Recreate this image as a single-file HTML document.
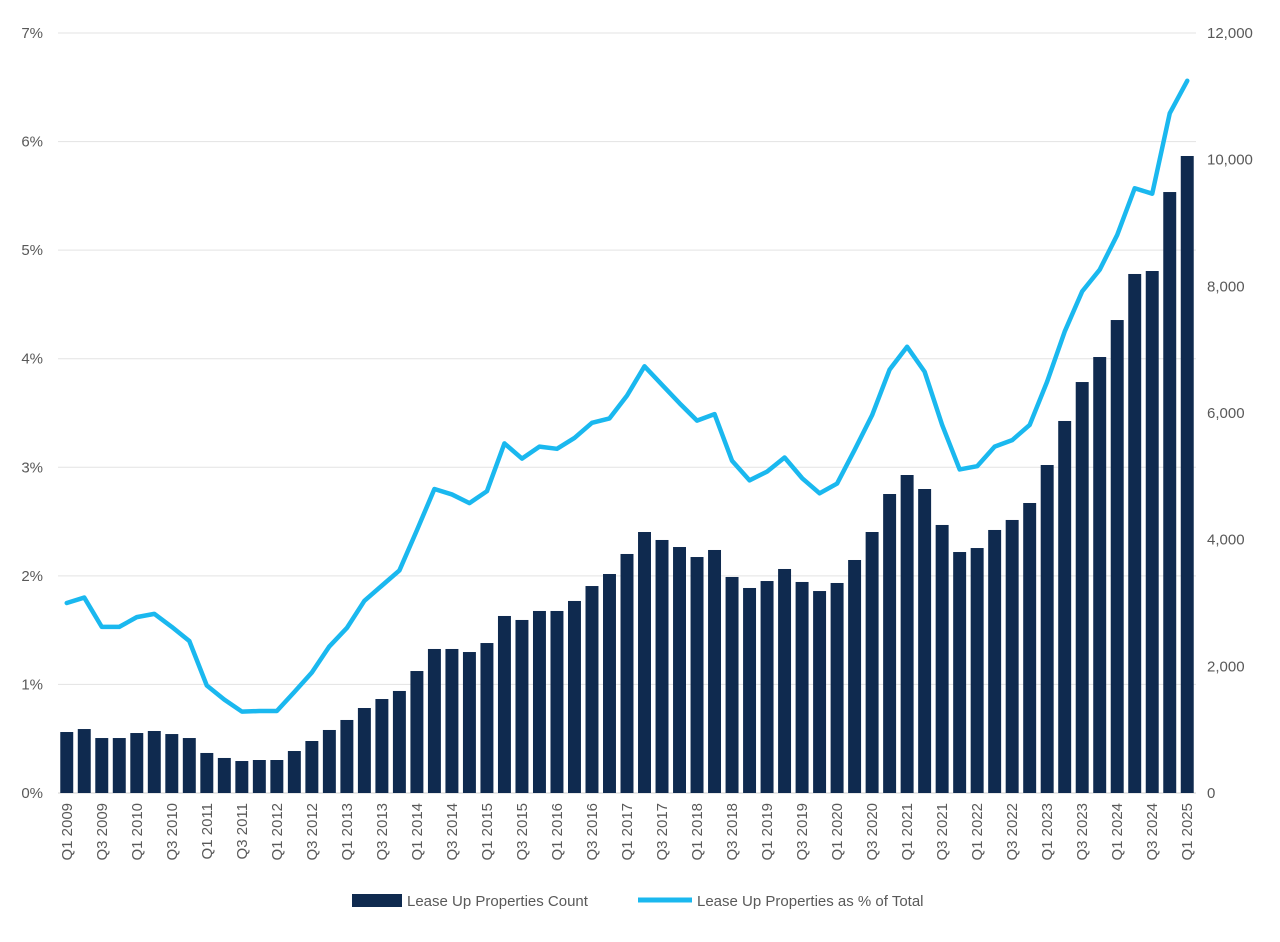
<!DOCTYPE html>
<html><head><meta charset="utf-8"><style>
body{margin:0;background:#fff;}
svg text{font-family:"Liberation Sans",sans-serif;fill:#595959;font-size:15px;}
</style></head><body>
<svg id="chart" width="1280" height="937" xmlns="http://www.w3.org/2000/svg">
<g id="grid"></g><g id="bars"></g><g id="line"></g><g id="axes"></g>
<g>
<rect x="352" y="894" width="50" height="13" fill="#0f2a4f"/>
<text x="407" y="906">Lease Up Properties Count</text>
<line x1="638" y1="900" x2="692" y2="900" stroke="#1ab8ef" stroke-width="5"/>
<text x="697" y="906">Lease Up Properties as % of Total</text>
</g>
</svg>
<script>
const years=[];for(let y=2009;y<=2025;y++)years.push(y);
const categories=[];years.forEach(y=>{for(let q=1;q<=4;q++){if(y===2025&&q>1)break;categories.push('Q'+q+' '+y);}});
const counts=[963,1010,868,868,947,979,931,868,632,553,505,521,521,663,821,995,1153,1342,1484,1611,1926,2274,2274,2226,2368,2795,2732,2874,2874,3032,3268,3458,3774,4121,3995,3884,3726,3837,3411,3237,3347,3537,3332,3189,3316,3679,4121,4721,5021,4800,4232,3805,3868,4153,4311,4579,5179,5874,6489,6884,7468,8195,8242,9489,10058];
const pcts=[1.75,1.80,1.53,1.53,1.62,1.65,1.53,1.40,0.99,0.86,0.75,0.755,0.755,0.93,1.11,1.35,1.52,1.77,1.91,2.05,2.42,2.80,2.75,2.67,2.78,3.22,3.08,3.19,3.17,3.27,3.41,3.45,3.66,3.93,3.76,3.59,3.43,3.49,3.06,2.88,2.96,3.09,2.90,2.76,2.85,3.16,3.48,3.90,4.11,3.88,3.39,2.98,3.01,3.19,3.25,3.39,3.79,4.25,4.62,4.82,5.14,5.57,5.52,6.26,6.56];
const leftTicks=[0,1,2,3,4,5,6,7];
const rightTicks=[0,2000,4000,6000,8000,10000,12000];
const NS='http://www.w3.org/2000/svg';
const X0=58,X1=1196,Y0=793,Y1=33;
const bw=(X1-X0)/categories.length;
const xc=i=>X0+bw*(i+0.5);
const yL=v=>Y0-(v/7)*(Y0-Y1);
const yR=v=>Y0-(v/12000)*(Y0-Y1);
function mk(tag,attrs,parent){const e=document.createElementNS(NS,tag);for(const k in attrs)e.setAttribute(k,attrs[k]);document.getElementById(parent).appendChild(e);return e;}
leftTicks.forEach(t=>{
 const g=mk('line',{x1:X0,x2:X1,y1:yL(t),y2:yL(t),stroke:t===0?'#d0d0d0':'#e3e3e3','stroke-width':1},'grid');
 
 
 const l=mk('text',{x:43,y:yL(t)+5,'text-anchor':'end'},'axes');l.textContent=t+'%';
 
 
});
rightTicks.forEach(t=>{
 const l=mk('text',{x:1207,y:yR(t)+5},'axes');l.textContent=t.toLocaleString('en-US');
 
 
});
counts.forEach((c,i)=>{
 const r=mk('rect',{x:xc(i)-bw*0.37,y:yR(c),width:bw*0.74,height:Y0-yR(c),fill:'#0f2a4f'},'bars');
 
 
});
categories.forEach((c,i)=>{
 if(i%2)return;
 const t=mk('text',{transform:`translate(${xc(i)+5},803) rotate(-90)`,'text-anchor':'end'},'axes');t.textContent=c;
 
 
});
const p=mk('polyline',{points:pcts.map((v,i)=>xc(i)+','+yL(v)).join(' '),fill:'none',stroke:'#1ab8ef','stroke-width':4.5,'stroke-linejoin':'round','stroke-linecap':'round'},'line');


</script>
</body></html>
